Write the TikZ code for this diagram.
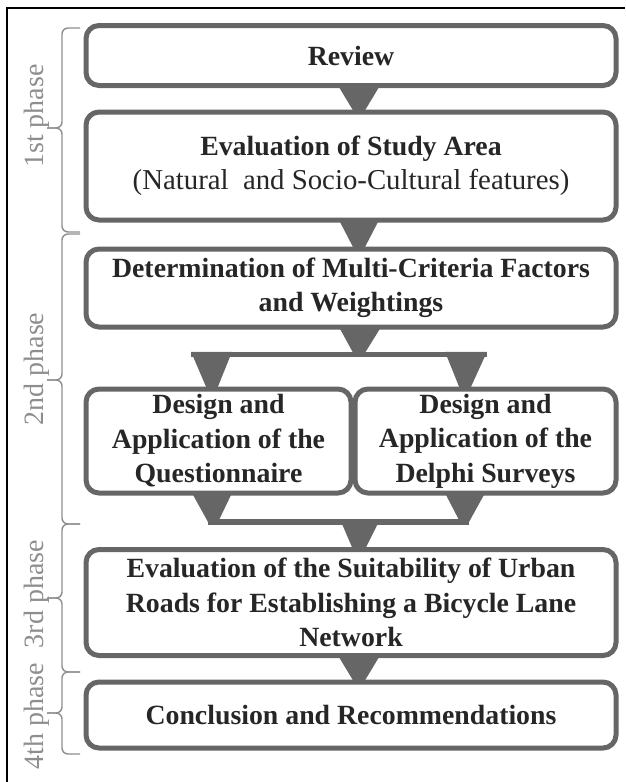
\documentclass[tikz,border=0pt]{standalone}
\usepackage{fontspec}
\setmainfont{Liberation Serif}
\usetikzlibrary{calc}
\definecolor{boxgray}{HTML}{666666}
\definecolor{inkgray}{HTML}{262626}
\definecolor{phasegray}{HTML}{8E8E8E}

\begin{document}
\begin{tikzpicture}[x=1pt,y=-1pt,
  stage/.style={draw=boxgray, line width=5pt, rounded corners=13pt, fill=white,
    align=center, inner sep=0pt, outer sep=0pt, text=inkgray,
    font=\fontsize{27.8}{34.5}\selectfont\bfseries},
  flow/.style={fill=boxgray},
  bar/.style={draw=boxgray, line width=5.5pt},
  bracket/.style={draw=phasegray, line width=1.4pt, rounded corners=6pt},
  phase/.style={rotate=90, anchor=base, text=phasegray, inner sep=0pt,
    font=\fontsize{28}{30}\selectfont},
  frame/.style={draw=black, line width=1.5pt}]
\useasboundingbox (0,0) rectangle (625,782);

% outer frame (top and left edges)
\draw[frame] (7,782) -- (7,8) -- (625,8);

% process stages
\node[stage, minimum width=530pt, minimum height=60pt] (review) at (351,55.5) {Review};
\node[stage, minimum width=530pt, minimum height=108pt] (area) at (351,166)
  {Evaluation of Study Area\\{\mdseries\fontsize{28.8}{34.5}\selectfont(Natural\ \ and Socio-Cultural features)}};
\node[stage, minimum width=530pt, minimum height=78pt] (criteria) at (351,288)
  {Determination of Multi-Criteria Factors\\and Weightings};
\node[stage, minimum width=265pt, minimum height=104pt] (quest) at (218.5,441)
  {\raisebox{-4pt}{Design and}\\\raisebox{-4pt}{Application of the}\\\raisebox{-4pt}{Questionnaire}};
\node[stage, minimum width=261pt, minimum height=104pt] (delphi) at (485.5,441)
  {\raisebox{-4pt}{Design and}\\\raisebox{-4pt}{Application of the}\\\raisebox{-4pt}{Delphi Surveys}};
\node[stage, minimum width=530pt, minimum height=106pt] (suit) at (351,602.5)
  {Evaluation of the Suitability of Urban\\Roads for Establishing a Bicycle Lane\\Network};
\node[stage, minimum width=530pt, minimum height=66pt] (concl) at (351,715)
  {Conclusion and Recommendations};

% straight connectors
\fill[flow] ([xshift=-13pt]review.south) -- ([xshift=29pt]review.south)
  -- ([xshift=13pt]area.north) -- ([xshift=3pt]area.north) -- cycle;
\fill[flow] ([xshift=-12pt]area.south) -- ([xshift=28pt]area.south)
  -- ([xshift=13pt]criteria.north) -- ([xshift=3pt]criteria.north) -- cycle;
\fill[flow] ([xshift=-13pt]suit.south) -- ([xshift=29pt]suit.south)
  -- ([xshift=13pt]concl.north) -- ([xshift=3pt]concl.north) -- cycle;

% fork into the two survey branches
\coordinate (fork) at (359,354.5);
\coordinate (forkL) at (191,354.5);
\coordinate (forkR) at (487,354.5);
\fill[flow] ([xshift=-12pt]criteria.south) -- ([xshift=30pt]criteria.south)
  -- ([xshift=5pt]fork) -- ([xshift=-5pt]fork) -- cycle;
\draw[bar] (forkL) -- (forkR);
\fill[flow] ([yshift=2.75pt]forkL) -- ([xshift=41pt,yshift=2.75pt]forkL)
  -- ([xshift=-1.5pt]quest.north) -- ([xshift=-11.5pt]quest.north) -- cycle;
\fill[flow] ([xshift=-42pt,yshift=2.75pt]forkR) -- ([yshift=2.75pt]forkR)
  -- ([xshift=-15.5pt]delphi.north) -- ([xshift=-25.5pt]delphi.north) -- cycle;

% join of the two branches
\coordinate (join) at (359,522);
\coordinate (joinL) at (208,522);
\coordinate (joinR) at (469,522);
\fill[flow] ([xshift=-26.5pt]quest.south) -- ([xshift=13.5pt]quest.south)
  -- ([xshift=10pt]joinL) -- (joinL) -- cycle;
\fill[flow] ([xshift=-40.5pt]delphi.south) -- ([xshift=-0.5pt]delphi.south)
  -- (joinR) -- ([xshift=-9pt]joinR) -- cycle;
\draw[bar] (joinL) -- (joinR);
\fill[flow] ([xshift=-19pt,yshift=2.75pt]join) -- ([xshift=21pt,yshift=2.75pt]join)
  -- ([xshift=14pt]suit.north) -- ([xshift=2pt]suit.north) -- cycle;

% phase brackets
\draw[bracket] (80,28) -- (62,28) -- (62,128) -- (47,128);
\draw[bracket] (47,128) -- (62,128) -- (62,232) -- (80,232);
\draw[bracket] (80,234) -- (62,234) -- (62,380) -- (47,380);
\draw[bracket] (47,380) -- (62,380) -- (62,524) -- (80,524);
\draw[bracket] (80,524) -- (62,524) -- (62,598) -- (47,598);
\draw[bracket] (47,598) -- (62,598) -- (62,672) -- (80,672);
\draw[bracket] (80,672) -- (62,672) -- (62,713) -- (47,713);
\draw[bracket] (47,713) -- (62,713) -- (62,754) -- (80,754);

% phase labels
\node[phase] (p1) at (43,116) {1st phase};
\node[phase] (p2) at (43,369) {2nd phase};
\node[phase] (p3) at (43,594) {3rd phase};
\node[phase] (p4) at (43,716) {4th phase};
\end{tikzpicture}
\end{document}
